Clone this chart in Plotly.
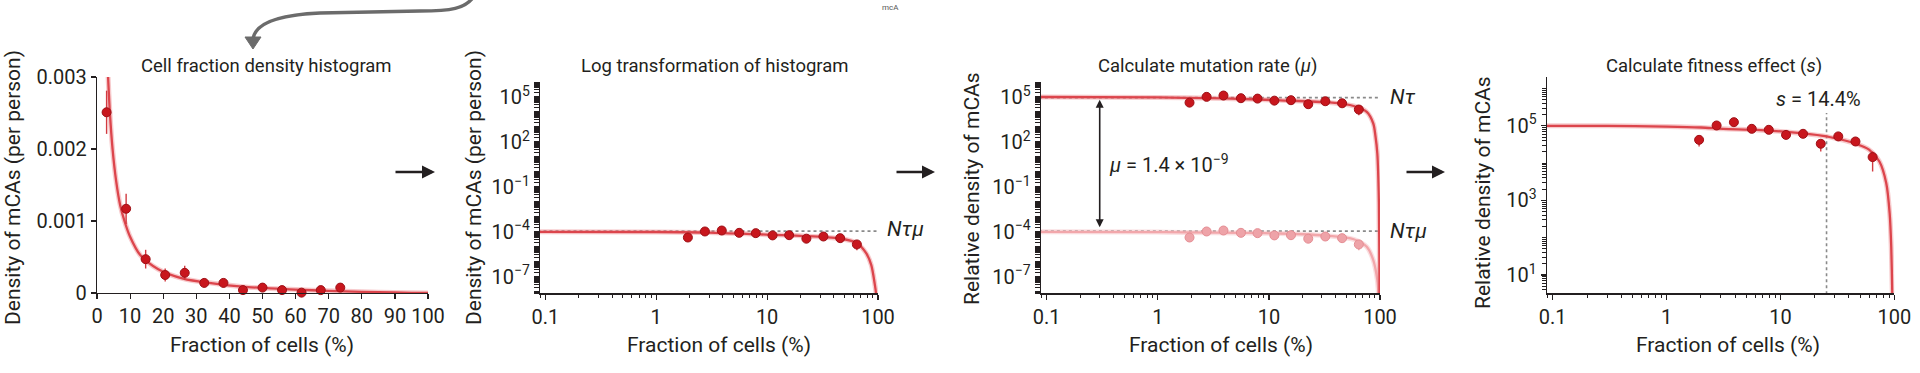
import numpy as np
import plotly.graph_objects as go

# ---------------- data ----------------
# Panel 1: linear histogram
lin_x = [2.9, 8.8, 14.7, 20.6, 26.5, 32.4, 38.2, 44.1, 50.0, 55.9, 61.8, 67.6, 73.5]
lin_y = [2.51e-3, 1.17e-3, 0.47e-3, 0.25e-3, 0.28e-3, 0.14e-3, 0.14e-3, 0.04e-3,
         0.075e-3, 0.04e-3, 0.005e-3, 0.04e-3, 0.075e-3]
lin_err = [0.30e-3, 0.21e-3, 0.13e-3, 0.09e-3, 0.10e-3, 0.06e-3, 0.06e-3, 0.02e-3,
           0.03e-3, 0.02e-3, 0.01e-3, 0.02e-3, 0.04e-3]
fit1_x = [3.35, 3.9, 4.7, 5.8, 7.0, 8.3, 10, 13, 18.5, 26, 35, 44, 55, 65, 75, 85, 95, 100]
fit1_y = [3.0e-3, 2.5e-3, 2.0e-3, 1.55e-3, 1.22e-3, 1.0e-3, 0.78e-3, 0.53e-3, 0.33e-3,
          0.20e-3, 0.134e-3, 0.088e-3, 0.058e-3, 0.038e-3, 0.023e-3, 0.011e-3, 0.003e-3, 0.0]

# Log-binned data (fraction of cells, %)
log_x = [1.93, 2.75, 3.9, 5.6, 7.9, 11.2, 15.8, 22.6, 32.2, 45.6, 64.5]
# density per person (panel 2, lower series of panel 3)
dens_pp = [4.2e-5, 1.06e-4, 1.23e-4, 8.6e-5, 8.2e-5, 5.8e-5, 6.0e-5, 3.5e-5, 4.9e-5, 3.8e-5, 1.45e-5]
# relative density (panel 4, upper series of panel 3)
rel_dens = [42000, 102000, 125000, 83000, 78000, 57000, 61000, 33000, 52000, 38000, 14500]
rel_lo = [28000, 95000, 118000, 72000, 68000, 47000, 52000, 20400, 42000, 30000, 6000]
rel_hi = [47000, 108000, 131000, 90000, 85000, 63000, 67000, 41700, 58000, 43000, 20400]

# fitted curves
fit2_x = [0.085, 1, 3, 8.6, 20, 45, 63.8, 78.5, 87, 93.3, 96, 98]
fit2_y = [1.0e-4, 9.8e-5, 9.0e-5, 6.8e-5, 5.4e-5, 3.6e-5, 1.86e-5, 3.6e-6, 6.0e-7, 3.6e-8, 7.9e-9, 1e-10]
fit3lo_x = [0.085, 1, 12.6, 35, 58, 76, 87, 94.6, 97, 98.5]
fit3lo_y = [1.0e-4, 9.6e-5, 7.8e-5, 5.4e-5, 3.2e-5, 1.0e-5, 1.3e-6, 6.0e-8, 6e-9, 1e-10]
fit3hi_x = [0.085, 1, 4, 12.6, 35, 58, 76, 87, 91, 94.6, 97.7, 99.0, 99.6]
fit3hi_y = [1.0e5, 9.3e4, 8.0e4, 6.0e4, 4.3e4, 2.5e4, 1.0e4, 1.7e3, 2.5e2, 17, 1e-2, 1e-8, 1e-12]
fit4_x = [0.085, 0.3, 1, 2, 3.14, 6.2, 12, 23.7, 33, 46, 60, 74, 85, 91, 94, 96, 97.5]
fit4_y = [1.0e5, 1.0e5, 9.55e4, 9.0e4, 8.3e4, 7.76e4, 6.76e4, 5.37e4, 4.36e4, 3.31e4,
          2.29e4, 1.1e4, 2.9e3, 457, 57, 3.2, 0.3]

nt_level = 9.1e4
ntmu_level = 1.12e-4
mu_arrow_x = 0.3
s_line_x = 25.4
log_xticks = [0.1, 1, 10, 100]
log_xtext = ['0.1', '1', '10', '100']
ylog_ticks = [1e-7, 1e-4, 1e-1, 1e2, 1e5]
ylog_text = ['10<sup>−7</sup>', '10<sup>−4</sup>', '10<sup>−1</sup>', '10<sup>2</sup>', '10<sup>5</sup>']
y4_ticks = [10, 1e3, 1e5]
y4_text = ['10<sup>1</sup>', '10<sup>3</sup>', '10<sup>5</sup>']

# ---------------- styling ----------------
W, H = 1920, 373
def px(x): return x / W
def py(y): return 1 - y / H

FONT = 'Roboto'
TXT = '#231f20'
RED = '#c8161d'
RED_EDGE = '#9e1016'
LINE = '#dc454c'
HALO = 'rgba(236,125,130,0.40)'
PINK = '#eea3a8'
PINK_EDGE = '#e58d93'
PINK_LINE = '#f2a7ab'
ERR = '#d23a40'

fig = go.Figure()

def add_fit(x, y, xa, ya, color=LINE, halo=HALO):
    fig.add_trace(go.Scatter(x=x, y=y, xaxis=xa, yaxis=ya, mode='lines',
                             line=dict(color=halo, width=5, shape='spline', smoothing=0.8),
                             hoverinfo='skip', showlegend=False))
    fig.add_trace(go.Scatter(x=x, y=y, xaxis=xa, yaxis=ya, mode='lines',
                             line=dict(color=color, width=2.3, shape='spline', smoothing=0.8),
                             hoverinfo='skip', showlegend=False))

def add_pts(x, y, xa, ya, lo=None, hi=None, fill=RED, edge=RED_EDGE, ecol=ERR):
    err = None
    if lo is not None:
        err = dict(type='data', symmetric=False, array=hi, arrayminus=lo,
                   color=ecol, thickness=1.4, width=0)
    fig.add_trace(go.Scatter(x=x, y=y, xaxis=xa, yaxis=ya, mode='markers',
                             marker=dict(size=9, color=fill, line=dict(color=edge, width=1)),
                             error_y=err, cliponaxis=False, showlegend=False))

def add_hdot(level, xa, ya):
    fig.add_trace(go.Scatter(x=[0.085, 100], y=[level, level], xaxis=xa, yaxis=ya, mode='lines',
                             line=dict(color='#8a8a8a', width=1.6, dash='dot'),
                             hoverinfo='skip', showlegend=False))

# Panel 1
add_fit(fit1_x, fit1_y, 'x', 'y')
add_pts(lin_x, lin_y, 'x', 'y', lo=lin_err, hi=lin_err)

# derived error arrays for log panels
rel_minus = [v - l for v, l in zip(rel_dens, rel_lo)]
rel_plus = [h - v for v, h in zip(rel_dens, rel_hi)]
pp_minus = [d * m / v for d, m, v in zip(dens_pp, rel_minus, rel_dens)]
pp_plus = [d * p / v for d, p, v in zip(dens_pp, rel_plus, rel_dens)]

# Panel 2
add_hdot(ntmu_level, 'x2', 'y2')
add_fit(fit2_x, fit2_y, 'x2', 'y2')
add_pts(log_x, dens_pp, 'x2', 'y2', lo=pp_minus, hi=pp_plus)

# Panel 3
add_hdot(nt_level, 'x3', 'y3')
add_hdot(ntmu_level, 'x3', 'y3')
add_fit(fit3lo_x, fit3lo_y, 'x3', 'y3', color=PINK_LINE, halo='rgba(245,185,188,0.45)')
add_pts(log_x, dens_pp, 'x3', 'y3', lo=pp_minus, hi=pp_plus, fill=PINK, edge=PINK_EDGE, ecol='#eda1a6')
add_fit(fit3hi_x, fit3hi_y, 'x3', 'y3')
add_pts(log_x, rel_dens, 'x3', 'y3', lo=rel_minus, hi=rel_plus)

# Panel 4
fig.add_trace(go.Scatter(x=[s_line_x, s_line_x], y=[1, 2.2e5], xaxis='x4', yaxis='y4', mode='lines',
                         line=dict(color='#8a8a8a', width=1.6, dash='dot'),
                         hoverinfo='skip', showlegend=False))
add_fit(fit4_x, fit4_y, 'x4', 'y4')
add_pts(log_x, rel_dens, 'x4', 'y4', lo=rel_minus, hi=rel_plus)

# ---------------- axes ----------------
base = dict(showline=True, linecolor=TXT, linewidth=1.2, ticks='outside', tickcolor=TXT,
            tickwidth=1.2, ticklen=5, showgrid=False, zeroline=False, automargin=False,
            tickfont=dict(family=FONT, size=20, color=TXT), fixedrange=True)
minor = dict(ticks='outside', ticklen=3.5, tickcolor=TXT, tickwidth=1, dtick='D1', showgrid=False)

fig.update_layout(
    xaxis=dict(base, domain=[px(97), px(428)], range=[0, 100], tickmode='array',
               tickvals=list(range(0, 101, 10)), anchor='y'),
    yaxis=dict(base, domain=[py(293), py(77)], range=[0, 0.003], tickmode='array',
               tickvals=[0, 0.001, 0.002, 0.003], ticktext=['0', '0.001', '0.002', '0.003'], anchor='x'),
    xaxis2=dict(base, type='log', domain=[px(540), px(878)], range=[-1.048, 2.0], tickmode='array',
                tickvals=log_xticks, ticktext=log_xtext, minor=minor, anchor='y2'),
    yaxis2=dict(base, type='log', domain=[py(293.3), py(82)], range=[-8.1, 6.0], tickmode='array',
                tickvals=ylog_ticks, ticktext=ylog_text, minor=dict(minor, ticklen=5), anchor='x2'),
    xaxis3=dict(base, type='log', domain=[px(1040.7), px(1380)], range=[-1.054, 2.0], tickmode='array',
                tickvals=log_xticks, ticktext=log_xtext, minor=minor, anchor='y3'),
    yaxis3=dict(base, type='log', domain=[py(293.3), py(82)], range=[-8.1, 6.0], tickmode='array',
                tickvals=ylog_ticks, ticktext=ylog_text, minor=dict(minor, ticklen=5), anchor='x3'),
    xaxis4=dict(base, type='log', domain=[px(1546.7), px(1894.3)], range=[-1.053, 2.0], tickmode='array',
                tickvals=log_xticks, ticktext=log_xtext, minor=minor, anchor='y4'),
    yaxis4=dict(base, type='log', domain=[py(293.3), py(77.3)], range=[0.51, 6.3], tickmode='array',
                tickvals=y4_ticks, ticktext=y4_text, minor=dict(minor, ticklen=4), anchor='x4'),
)

# ---------------- annotations ----------------
ann = []
def text(x, y, s, size=19, xanchor='center', yanchor='middle', angle=0, color=TXT):
    ann.append(dict(x=px(x), y=py(y), xref='paper', yref='paper', text=s, showarrow=False,
                    xanchor=xanchor, yanchor=yanchor, textangle=angle,
                    font=dict(family=FONT, size=size, color=color)))

titles = [(266, 'Cell fraction density histogram'), (715, 'Log transformation of histogram'),
          (1207, 'Calculate mutation rate (<i>μ</i>)'), (1714, 'Calculate fitness effect (<i>s</i>)')]
for x, s in titles:
    text(x, 66, s, size=18.5)
for x in [262, 719, 1221, 1728]:
    text(x, 345, 'Fraction of cells (%)', size=21)
text(13, 188, 'Density of mCAs (per person)', size=21, angle=-90)
text(474, 188, 'Density of mCAs (per person)', size=21, angle=-90)
text(972, 189, 'Relative density of mCAs', size=21, angle=-90)
text(1483, 193, 'Relative density of mCAs', size=21, angle=-90)
text(905, 229, '<i>Nτμ</i>', size=21)
text(1388, 97, '<i>Nτ</i>', size=21, xanchor='left')
text(1388, 231, '<i>Nτμ</i>', size=21, xanchor='left')
text(1107, 164, '<i>μ</i> = 1.4 × 10<sup>−9</sup>', size=20, xanchor='left')
text(1818, 99, '<i>s</i> = 14.4%', size=20)
text(890, 0.5, 'mcA', size=8, yanchor='top', color='#555555')

# double-headed arrow (log axis coordinates)
ann.append(dict(x=np.log10(mu_arrow_x), y=np.log10(nt_level) - 0.15, xref='x3', yref='y3',
                ax=np.log10(mu_arrow_x), ay=np.log10(ntmu_level) + 0.15, axref='x3', ayref='y3',
                showarrow=True, arrowhead=2, startarrowhead=2, arrowside='end+start',
                arrowsize=1, startarrowsize=1, arrowwidth=1.6, arrowcolor=TXT, text=''))

# arrows between panels
for x0, x1 in [(394, 435), (895, 935), (1405, 1445)]:
    ann.append(dict(x=px(x1), y=py(172), xref='paper', yref='paper', ax=-(x1 - x0), ay=0,
                    showarrow=True, arrowhead=2, arrowsize=1, arrowwidth=2.6, arrowcolor=TXT, text=''))

fig.update_layout(annotations=ann)

# curved gray arrow at top
def P(x, y):
    return f'{px(x):.5f},{py(y):.5f}'
path = (f'M {P(474, -4)} C {P(466, 9)} {P(450, 11)} {P(420, 11)} '
        f'L {P(320, 13)} C {P(275, 15)} {P(254, 24)} {P(253, 40)}')
fig.add_shape(type='path', path=path, xref='paper', yref='paper',
              line=dict(color='#6b6b6b', width=3.5))
fig.add_shape(type='path', path=f'M {P(245, 37)} L {P(261, 37)} L {P(253, 49)} Z',
              xref='paper', yref='paper', line=dict(color='#6b6b6b', width=1), fillcolor='#6b6b6b')

fig.update_layout(width=W, height=H, margin=dict(l=0, r=0, t=0, b=0, pad=0, autoexpand=False),
                  paper_bgcolor='white', plot_bgcolor='white',
                  font=dict(family=FONT, color=TXT), showlegend=False)

fig.write_html('out.html', config={'displayModeBar': False, 'staticPlot': True},
               post_script="document.body.style.margin='0';")
